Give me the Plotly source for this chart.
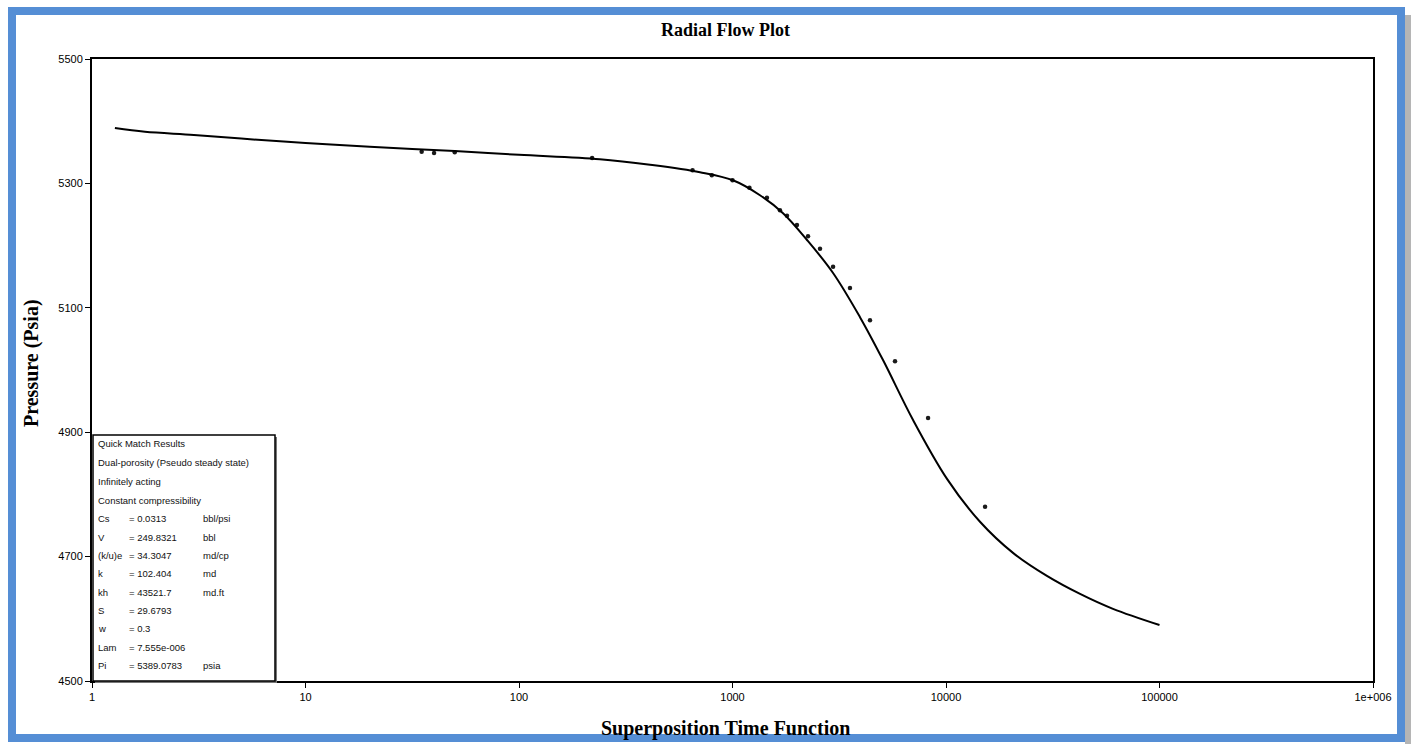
import plotly.graph_objects as go

# ---- data ----
model_time = [1.28, 1.77, 3, 5, 10, 20, 50, 100, 239, 411, 704, 1005, 1345, 1725, 2234,
              2958, 3955, 5070, 7000, 10110, 14430, 20600, 29700, 42450, 60550, 100000]
model_pressure = [5389, 5383, 5378, 5372, 5365, 5359, 5352, 5346, 5339, 5330, 5318, 5305,
                  5281, 5252, 5209, 5156, 5085, 5016, 4920, 4825, 4756, 4706, 4669,
                  4640, 4616, 4590]

data_time = [35, 40, 50, 220, 650, 800, 1000, 1200, 1450, 1668, 1800, 2004, 2258, 2570,
             2958, 3550, 4405, 5770, 8240, 15240]
data_pressure = [5351, 5349, 5350, 5341, 5321, 5313, 5305, 5293, 5277, 5257, 5248, 5233,
                 5215, 5195, 5166, 5132, 5080, 5014, 4923, 4780]

x_tickvals = [1, 10, 100, 1000, 10000, 100000, 1000000]
x_ticktext = ["1", "10", "100", "1000", "10000", "100000", "1e+006"]
y_tickvals = [4500, 4700, 4900, 5100, 5300, 5500]

box_header = ["Quick Match Results", "Dual-porosity (Pseudo steady state)",
              "Infinitely acting", "Constant compressibility"]
param_names = ["Cs", "V", "(k/u)e", "k", "kh", "S", "w", "Lam", "Pi"]
param_values = ["= 0.0313", "= 249.8321", "= 34.3047", "= 102.404", "= 43521.7",
                "= 29.6793", "= 0.3", "= 7.555e-006", "= 5389.0783"]
param_units = ["bbl/psi", "bbl", "md/cp", "md", "md.ft", "", "", "", "psia"]

# ---- figure ----
fig = go.Figure()
fig.add_trace(go.Scatter(x=data_time, y=data_pressure, mode="markers",
                         marker=dict(color="#1a1a1a", size=4.5, symbol="circle"),
                         showlegend=False))
fig.add_trace(go.Scatter(x=model_time, y=model_pressure, mode="lines",
                         line=dict(color="black", width=2, shape="spline", smoothing=1),
                         showlegend=False))

L, R, T, B = 92, 38, 59, 63
W, H = 1411, 744
pw, ph = W - L - R, H - T - B

def px(x):
    return (x - L) / pw

def py(y):
    return (H - B - y) / ph

fig.update_layout(
    width=W, height=H,
    margin=dict(l=L, r=R, t=T, b=B),
    paper_bgcolor="white", plot_bgcolor="white",
    font=dict(family="Liberation Sans, Arial", size=11, color="black"),
    xaxis=dict(type="log", range=[0, 6], tickvals=x_tickvals, ticktext=x_ticktext,
               showgrid=False, zeroline=False, showline=True, linecolor="black",
               linewidth=2, mirror=True, ticks="outside", ticklen=5, tickcolor="black",
               tickfont=dict(size=11)),
    yaxis=dict(range=[4500, 5500], tickvals=y_tickvals, showgrid=False, zeroline=False,
               showline=True, linecolor="black", linewidth=2, mirror=True,
               ticks="outside", ticklen=5, tickcolor="black", tickfont=dict(size=11)),
)

# blue page border + shadow
fig.add_shape(type="rect", xref="paper", yref="paper",
              x0=px(1405), x1=px(1411), y0=py(744), y1=py(15),
              fillcolor="#b5b5b5", line=dict(width=0), layer="below")
fig.add_shape(type="rect", xref="paper", yref="paper",
              x0=px(12), x1=px(1401), y0=py(738), y1=py(11),
              line=dict(color="#558ED5", width=8), fillcolor="rgba(0,0,0,0)")

# title / axis titles
fig.add_annotation(text="<b>Radial Flow Plot</b>", xref="paper", yref="paper",
                   x=px(725), y=py(30), xanchor="center", yanchor="middle", showarrow=False,
                   font=dict(family="Liberation Serif", size=18, color="black"))
fig.add_annotation(text="<b>Superposition Time Function</b>", xref="paper", yref="paper",
                   x=px(725), y=py(728), xanchor="center", yanchor="middle", showarrow=False,
                   font=dict(family="Liberation Serif", size=20, color="black"))
fig.add_annotation(text="<b>Pressure (Psia)</b>", xref="paper", yref="paper",
                   x=px(31), y=py(363), xanchor="center", yanchor="middle", showarrow=False,
                   textangle=-90,
                   font=dict(family="Liberation Serif", size=20, color="black"))

# results box
fig.add_shape(type="rect", xref="paper", yref="paper",
              x0=px(95), x1=px(277), y0=py(683), y1=py(437),
              fillcolor="#777777", line=dict(width=0))
fig.add_shape(type="rect", xref="paper", yref="paper",
              x0=px(93), x1=px(275), y0=py(681), y1=py(435),
              fillcolor="white", line=dict(color="black", width=1.5))

row_y = [443, 463, 481, 500, 518, 537, 555, 573, 592, 610, 628, 647, 665]
box_font = dict(family="Liberation Sans", size=9.5, color="#111111")
for i, t in enumerate(box_header):
    fig.add_annotation(text=t, xref="paper", yref="paper", x=px(96), y=py(row_y[i]),
                       xanchor="left", yanchor="middle", showarrow=False, font=box_font)
for j in range(len(param_names)):
    yy = py(row_y[len(box_header) + j])
    fig.add_annotation(text=param_names[j], xref="paper", yref="paper", x=px(96), y=yy,
                       xanchor="left", yanchor="middle", showarrow=False, font=box_font)
    fig.add_annotation(text=param_values[j], xref="paper", yref="paper", x=px(127), y=yy,
                       xanchor="left", yanchor="middle", showarrow=False, font=box_font)
    if param_units[j]:
        fig.add_annotation(text=param_units[j], xref="paper", yref="paper", x=px(201), y=yy,
                           xanchor="left", yanchor="middle", showarrow=False, font=box_font)

fig.write_html("out.html")
